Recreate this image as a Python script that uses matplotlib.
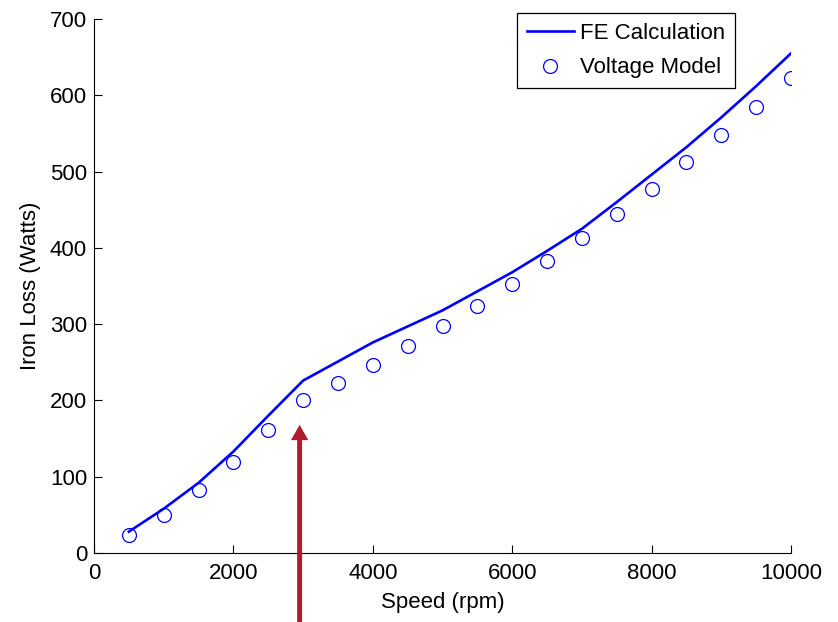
import matplotlib
matplotlib.use("Agg")
import matplotlib.pyplot as plt

plt.rcParams["font.family"] = ["Liberation Sans", "DejaVu Sans"]

speed = [500, 1000, 1500, 2000, 2500, 3000, 3500, 4000, 4500, 5000,
         5500, 6000, 6500, 7000, 7500, 8000, 8500, 9000, 9500, 10000]
fe_calc = [28, 58, 92, 133, 180, 226, 251, 276, 297, 318,
           343, 368, 396, 425, 460, 496, 532, 571, 612, 655]
voltage_model = [23, 50, 82, 119, 161, 201, 223, 247, 272, 297,
                 324, 352, 383, 413, 445, 477, 512, 548, 584, 623]

fig = plt.figure(figsize=(8.38, 6.22), dpi=100)
ax = fig.add_axes([94 / 838, 1 - 553 / 622, (791 - 94) / 838, (553 - 19) / 622])

ax.plot(speed, fe_calc, color="#0000ff", lw=1.9, label="FE Calculation")
ax.plot(speed, voltage_model, "o", mfc="none", mec="#0000ff", mew=0.9,
        ms=10, label="Voltage Model")

ax.set_xlim(0, 10000)
ax.set_ylim(0, 700)
ax.set_xticks([0, 2000, 4000, 6000, 8000, 10000])
ax.set_yticks(range(0, 701, 100))
ax.spines["top"].set_visible(False)
ax.spines["right"].set_visible(False)
ax.tick_params(direction="in", length=6, width=0.8, labelsize=16)
ax.tick_params(axis="x", pad=7)
ax.tick_params(axis="y", pad=5)

ax.set_xlabel("Speed (rpm)", fontsize=16, labelpad=6)
ax.set_ylabel("Iron Loss (Watts)", fontsize=16, labelpad=6)

leg = ax.legend(loc="upper left", bbox_to_anchor=(517 / 838, 1 - 13 / 622),
                bbox_transform=fig.transFigure, borderaxespad=0, fontsize=16,
                fancybox=False, edgecolor="black", framealpha=1,
                handlelength=2.1, handletextpad=0.3, borderpad=0.45,
                labelspacing=0.6)
leg.get_frame().set_linewidth(0.9)

# red arrow pointing at the knee
ax.annotate("", xy=(2950, 168), xytext=(2950, -100),
            arrowprops=dict(width=3.6, headwidth=12.5, headlength=11,
                            facecolor="#b01c2e", edgecolor="none",
                            shrink=0),
            annotation_clip=False)

fig.savefig("out.png", dpi=100)
